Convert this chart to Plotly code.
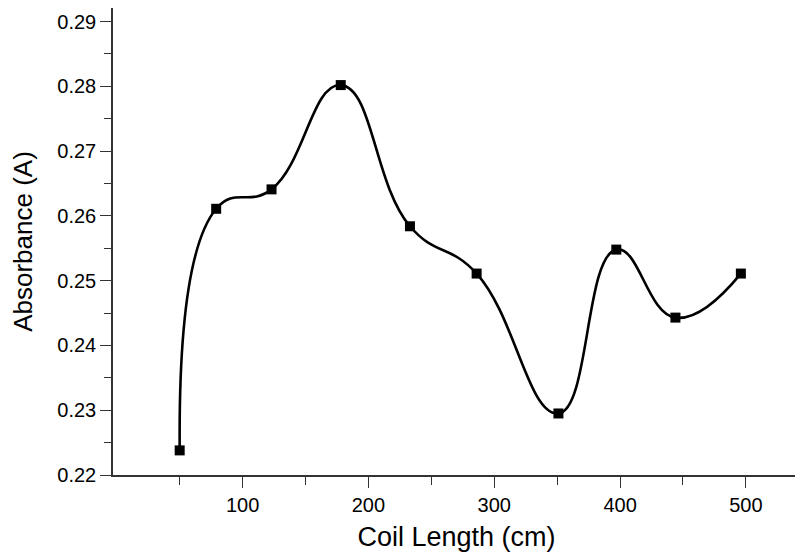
import plotly.graph_objects as go

coil_length = [50, 79, 123, 178, 233, 286, 351, 397, 444, 496]
absorbance = [0.2238, 0.2611, 0.2641, 0.2802, 0.2584, 0.2511, 0.2295, 0.2548, 0.2443, 0.2511]

x_ticks = [100, 200, 300, 400, 500]
x_minor = [50, 150, 250, 350, 450]
y_ticks = [0.22, 0.23, 0.24, 0.25, 0.26, 0.27, 0.28, 0.29]
y_labels = ["0.22", "0.23", "0.24", "0.25", "0.26", "0.27", "0.28", "0.29"]

fig = go.Figure()
fig.add_trace(go.Scatter(
    x=coil_length, y=absorbance, mode="lines",
    line=dict(shape="spline", smoothing=1.3, color="black", width=2.6),
    hoverinfo="skip", showlegend=False))
fig.add_trace(go.Scatter(
    x=coil_length, y=absorbance, mode="markers",
    marker=dict(symbol="square", size=10, color="black"),
    showlegend=False))

axis_color = "#333333"
# the page body adds an 8px offset, so the figure is drawn 8px smaller/shifted
fig.update_layout(
    width=795, height=549,
    margin=dict(l=105, r=3, t=0, b=82),
    paper_bgcolor="white", plot_bgcolor="white",
    font=dict(family="Liberation Sans, Arial, sans-serif", color="black"),
    xaxis=dict(
        range=[-3, 543], showgrid=False, zeroline=False, automargin=False,
        showline=True, linecolor=axis_color, linewidth=1.5,
        ticks="outside", ticklen=11, tickwidth=1.3, tickcolor=axis_color,
        tickvals=x_ticks, tickfont=dict(size=20),
        minor=dict(tickvals=x_minor, ticks="outside", ticklen=8, tickwidth=1.3, tickcolor=axis_color),
        title=dict(text="Coil Length (cm)", font=dict(size=27), standoff=12),
    ),
    yaxis=dict(
        range=[0.22, 0.2921], showgrid=False, zeroline=False, automargin=False,
        showline=True, linecolor=axis_color, linewidth=1.5,
        ticks="outside", ticklen=11, tickwidth=1.3, tickcolor=axis_color,
        tickvals=y_ticks, ticktext=y_labels, tickfont=dict(size=20),
        minor=dict(dtick=0.005, tick0=0.0, ticks="outside", ticklen=7, tickwidth=1.3, tickcolor=axis_color),
        title=dict(text="Absorbance (A)", font=dict(size=26), standoff=18),
    ),
)

fig.write_html("out.html")
